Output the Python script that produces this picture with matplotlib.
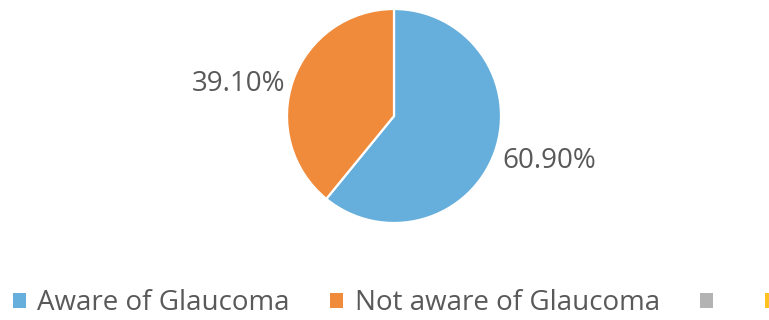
import matplotlib.pyplot as plt
from matplotlib.patches import Patch

# ---------------------------------------------------------------------------
# Data
# ---------------------------------------------------------------------------
categories = ['Aware of Glaucoma', 'Not aware of Glaucoma', '', '']
shares = [60.9, 39.1]
colors = ['#66AEDB', '#F08B3C', '#B3B3B3', '#FFC21F']

TEXT = '#595959'
plt.rcParams['font.family'] = ['Open Sans', 'DejaVu Sans']

fig = plt.figure(figsize=(7.69, 3.2), dpi=100)

# pie centred at ~(394, 116) px, radius ~107 px
W, H = 769, 320
cx, cy, r = 394, 116, 107
ax = fig.add_axes([(cx - r) / W, 1 - (cy + r) / H, 2 * r / W, 2 * r / H])

labels = [f'{v:.2f}%' for v in shares]
wedges, texts = ax.pie(shares, colors=colors[:len(shares)], startangle=90,
                       counterclock=False, labels=labels, labeldistance=1.08,
                       wedgeprops=dict(edgecolor='white', linewidth=1.6),
                       textprops=dict(fontsize=20, color=TEXT))
# data labels sit a little lower than the wedge mid-angle
for t in texts:
    x, y = t.get_position()
    t.set_position((x, y - 0.06))
ax.set_xlim(-1, 1)
ax.set_ylim(-1, 1)
ax.set_aspect('equal')

handles = [Patch(facecolor=c, edgecolor='none') for c in colors]
fig.legend(handles, categories, loc='center left',
           bbox_to_anchor=(13 / W, 1 - 303 / H), ncol=4, frameon=False,
           fontsize=20, labelcolor=TEXT, borderpad=0, borderaxespad=0,
           handlelength=0.45, handleheight=0.45, handletextpad=0.43,
           columnspacing=1.45)

fig.savefig('out.png', dpi=100)
